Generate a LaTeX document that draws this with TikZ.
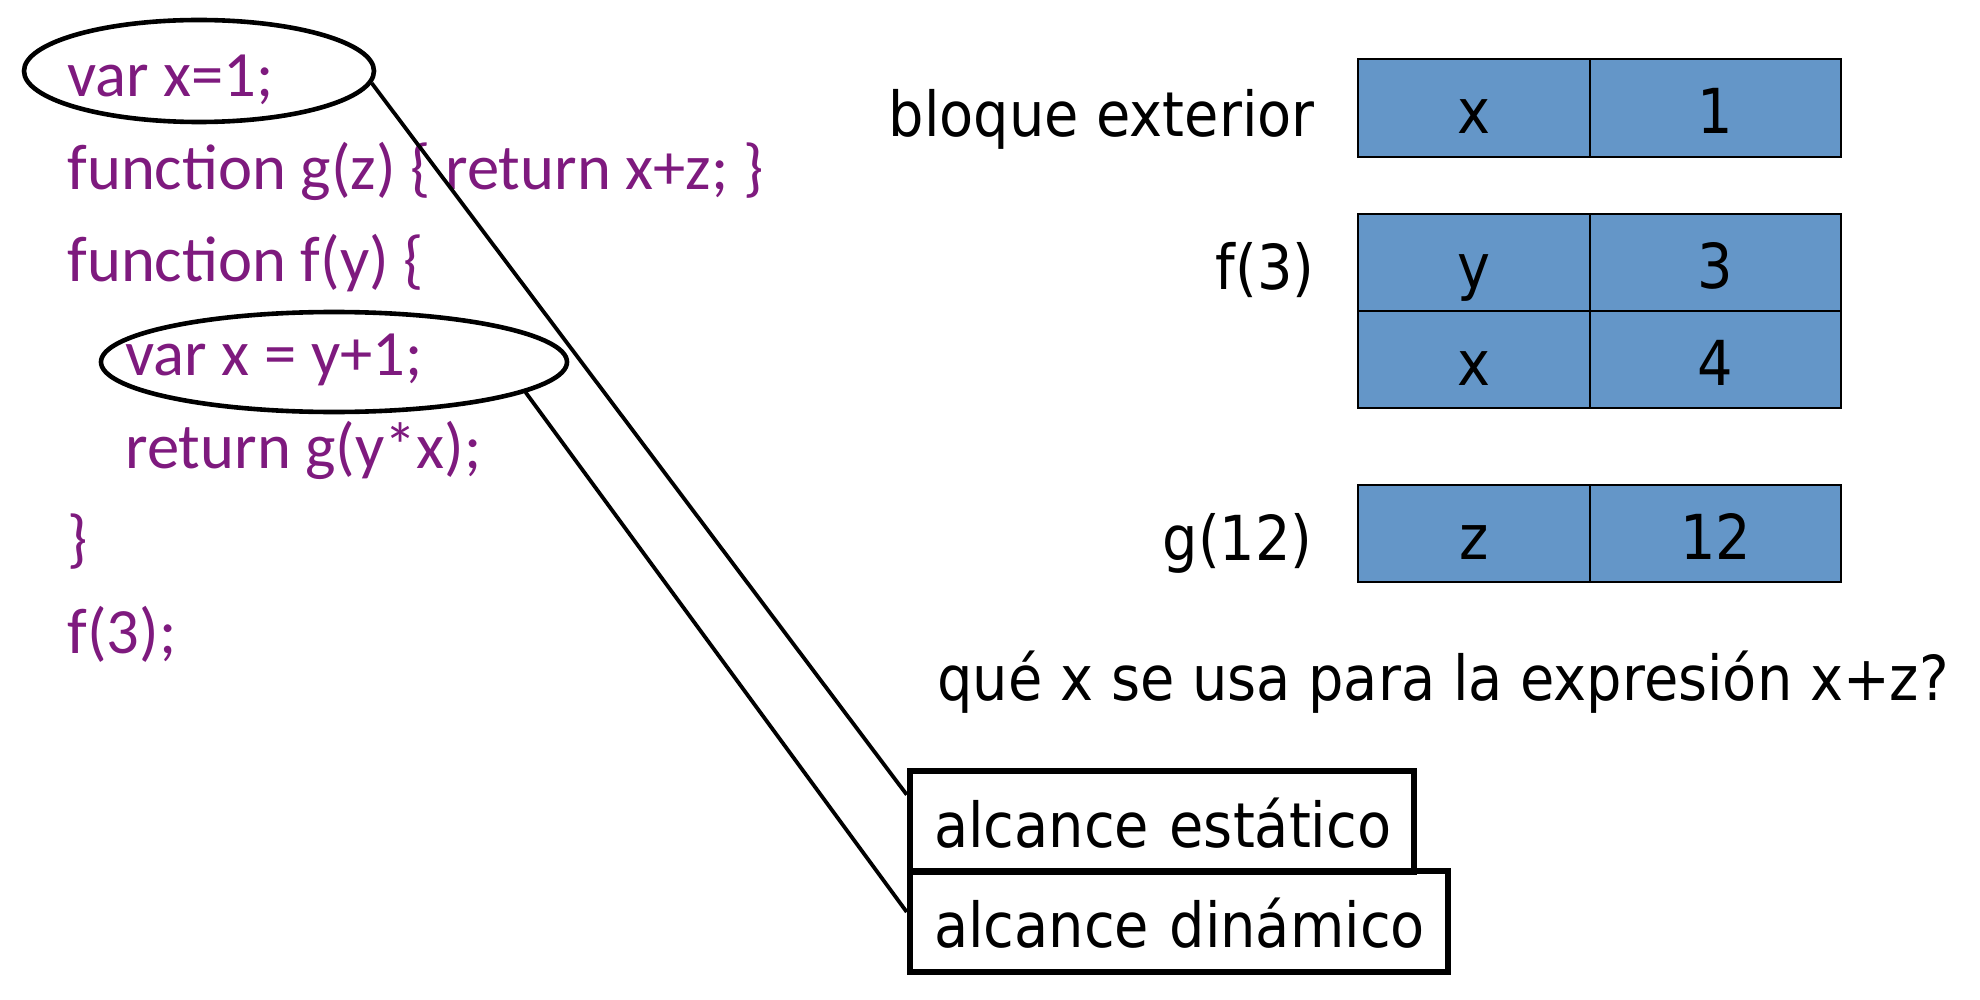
\documentclass[tikz,border=0pt]{standalone}
\usepackage{fontspec}
\setmainfont{DejaVu Sans}[FakeStretch=0.9]
\newfontfamily\codefont{Carlito}
\usetikzlibrary{shapes.geometric}
\definecolor{codepurple}{RGB}{126,26,126}
\definecolor{cellblue}{RGB}{100,150,200}
\begin{document}
\begin{tikzpicture}[x=0.5pt,y=-0.5pt,
  code/.style={font=\codefont\fontsize{32.3}{38}\selectfont, text=codepurple, inner sep=0pt, anchor=base west},
  lbl/.style={font=\fontsize{31}{36}\selectfont, inner sep=0pt},
  cell/.style={draw, line width=1.2pt, fill=cellblue, font=\fontsize{31}{36}\selectfont, text height=26pt, text depth=0pt, inner sep=0pt, minimum height=48.75pt},
  lcell/.style={cell, minimum width=116pt},
  rcell/.style={cell, minimum width=125.5pt},
  ring/.style={draw, ellipse, line width=2.3pt, inner sep=0pt},
  answer/.style={draw, rectangle, line width=3.3pt, align=left, inner xsep=12pt, inner ysep=0pt, text height=26pt, text depth=0pt, minimum height=50.5pt, font=\fontsize{31}{36}\selectfont},
  link/.style={line width=1.9pt}]
\useasboundingbox (0,0) rectangle (1980,1000);

% code
\node[code] (c1) at (67,97)  {var x=1;};
\node[code] (c2) at (67,190) {function g(z) \{ return x+z; \}};
\node[code] (c3) at (67,282) {function f(y) \{};
\node[code] (c4) at (125,375) {var x = y+1;};
\node[code] (c5) at (125,468) {return g(y*x);};
\node[code] (c6) at (67,560) {\}};
\node[code] (c7) at (67,653) {f(3);};

% ellipses
\node[ring, minimum width=175pt, minimum height=51pt] (e1) at (199,71) {};
\node[ring, minimum width=233pt, minimum height=50pt] (e2) at (334,362) {};

% labels
\node[lbl, anchor=base east] (lb1) at (1315,137) {bloque exterior};
\node[lbl, anchor=base east] (lb2) at (1315,290) {f(3)};
\node[lbl, anchor=base east] (lb3) at (1313,560) {g(12)};

% tables
\node[lcell] (t1a) at (1474,108) {x};
\node[rcell] (t1b) at (1715.5,108) {1};
\node[lcell] (t2a) at (1474,262.5) {y};
\node[rcell] (t2b) at (1715.5,262.5) {3};
\node[lcell] (t3a) at (1474,359.5) {x};
\node[rcell] (t3b) at (1715.5,359.5) {4};
\node[lcell] (t4a) at (1474,533.5) {z};
\node[rcell] (t4b) at (1715.5,533.5) {12};

% question
\node[lbl, anchor=base west] (q) at (937,700) {qué x se usa para la expresión x+z?};

% answers
\node[answer, text width=228pt] (st) at (1162,821.5) {\mbox{alcance estático}};
\node[answer, text width=245pt] (dy) at (1179,921.5) {\mbox{alcance dinámico}};

% connectors
\draw[link] (e1.-4) -- (st.174.6);
\draw[link] (e2.-9) -- (dy.178);
\end{tikzpicture}
\end{document}
